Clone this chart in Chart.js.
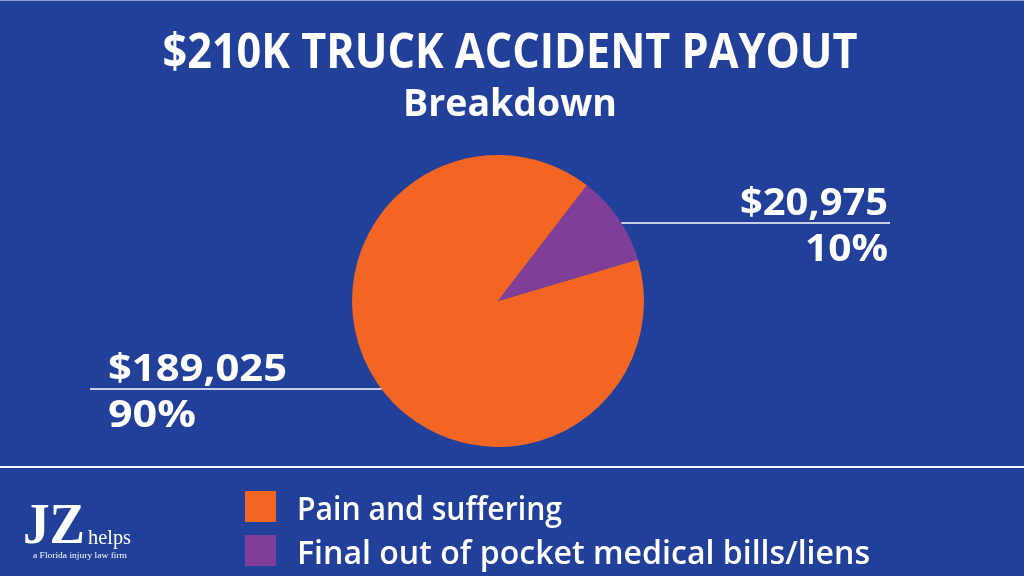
<!DOCTYPE html>
<html>
<head>
<meta charset="utf-8">
<script src="https://cdn.jsdelivr.net/npm/chart.js@4/dist/chart.umd.min.js"></script>
<style>
	html, body { margin: 0; padding: 0; background: #21409a; }
	#payout-chart { display: block; }
</style>
</head>
<body>
<canvas id="payout-chart" width="1024" height="576"></canvas>
<script>
const categories = ["Pain and suffering", "Final out of pocket medical bills/liens"];
const amounts = [189025, 20975];
const sliceColors = ["#f26522", "#7f3f98"];
const titleText = "$210K TRUCK ACCIDENT PAYOUT";
const subtitleText = "Breakdown";

const theme = {
	bg: "#21409a",
	text: "#ffffff",
	sans: "'Open Sans', 'Noto Sans', sans-serif",
	serif: "'Liberation Serif', 'DejaVu Serif', serif"
};

// where each slice's amount label sits (index matches categories)
const calloutLayout = [
	{ side: "left", textX: 108, lineY: 389, lineEnd: 90, amountW: 179, pctW: 88 },
	{ side: "right", textX: 888, lineY: 223, lineEnd: 890, amountW: 148, pctW: 83 }
];

function fitText(ctx, text, x, y, font, width, align) {
	ctx.save();
	ctx.font = font;
	const w = ctx.measureText(text).width;
	const sx = width / w;
	let left = x;
	if (align === "center") left = x - width / 2;
	if (align === "right") left = x - width;
	ctx.translate(left, y);
	ctx.scale(sx, 1);
	ctx.textAlign = "left";
	ctx.textBaseline = "alphabetic";
	ctx.fillText(text, 0, 0);
	ctx.restore();
}

function money(v) {
	return "$" + v.toLocaleString("en-US");
}

const decorPlugin = {
	id: "decor",
	beforeDraw(chart) {
		const ctx = chart.ctx;
		ctx.save();
		ctx.fillStyle = theme.bg;
		ctx.fillRect(0, 0, chart.width, chart.height);
		ctx.fillStyle = "#8c9bd0";
		ctx.fillRect(0, 0, chart.width, 1);
		ctx.restore();
	},
	afterDraw(chart) {
		const ctx = chart.ctx;
		const total = amounts.reduce((a, b) => a + b, 0);
		const arcs = chart.getDatasetMeta(0).data;
		ctx.save();
		ctx.fillStyle = theme.text;

		fitText(ctx, titleText, 510, 68, `bold 49px ${theme.sans}`, 695, "center");
		fitText(ctx, subtitleText, 510, 116, `bold 38px ${theme.sans}`, 214, "center");

		// callouts with leader lines to the pie edge
		ctx.strokeStyle = "#ffffff";
		ctx.lineWidth = 1.5;
		calloutLayout.forEach((c, i) => {
			const arc = arcs[i];
			const dy = c.lineY - arc.y;
			const dx = Math.sqrt(Math.max(arc.outerRadius * arc.outerRadius - dy * dy, 0));
			const edgeX = c.side === "left" ? arc.x - dx : arc.x + dx;
			ctx.beginPath();
			ctx.moveTo(c.lineEnd, c.lineY);
			ctx.lineTo(edgeX, c.lineY);
			ctx.stroke();
			const pct = Math.round(amounts[i] / total * 100) + "%";
			fitText(ctx, money(amounts[i]), c.textX, c.lineY - 8, `bold 38px ${theme.sans}`, c.amountW, c.side);
			fitText(ctx, pct, c.textX, c.lineY + 38, `bold 38px ${theme.sans}`, c.pctW, c.side);
		});

		// separator
		ctx.fillStyle = "#ffffff";
		ctx.fillRect(0, 466, chart.width, 2);

		// legend
		const legendW = [265, 573];
		categories.forEach((name, i) => {
			const top = 491 + i * 44;
			ctx.fillStyle = sliceColors[i];
			ctx.fillRect(245, top, 31, 31);
			ctx.fillStyle = theme.text;
			fitText(ctx, name, 297, top + 29, `600 32px ${theme.sans}`, legendW[i], "left");
		});

		// logo
		fitText(ctx, "JZ", 23, 543, `bold 58px ${theme.serif}`, 62, "left");
		fitText(ctx, "helps", 88, 544, `20px ${theme.serif}`, 43, "left");
		fitText(ctx, "a Florida injury law firm", 33, 558, `9px ${theme.serif}`, 94, "left");
		ctx.restore();
	}
};

new Chart(document.getElementById("payout-chart"), {
	type: "pie",
	data: {
		labels: categories,
		datasets: [{
			data: amounts,
			backgroundColor: sliceColors,
			borderWidth: 0
		}]
	},
	options: {
		responsive: false,
		animation: false,
		rotation: 73.5,
		layout: { padding: { left: 352, right: 380, top: 155, bottom: 129 } },
		plugins: {
			legend: { display: false },
			tooltip: { enabled: false }
		}
	},
	plugins: [decorPlugin]
});
</script>
</body>
</html>
